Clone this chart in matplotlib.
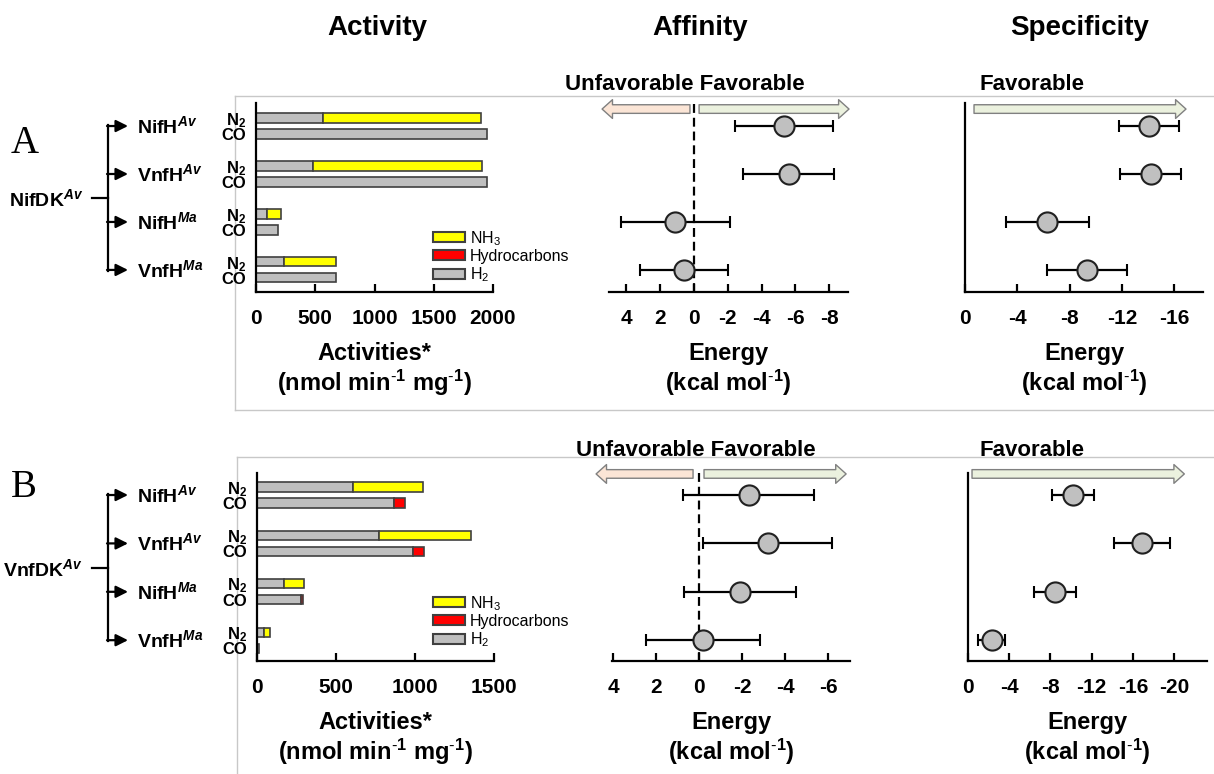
import matplotlib
matplotlib.use('Agg')
import matplotlib.pyplot as plt
from matplotlib.patches import Patch

plt.rcParams['font.family'] = ['Liberation Sans', 'DejaVu Sans']
plt.rcParams['mathtext.fontset'] = 'custom'
plt.rcParams['mathtext.rm'] = 'Liberation Sans'
plt.rcParams['mathtext.bf'] = 'Liberation Sans:bold'
plt.rcParams['mathtext.it'] = 'Liberation Sans:italic:bold'
plt.rcParams['mathtext.default'] = 'regular'
plt.rcParams['axes.unicode_minus'] = False

# Reductase partners (same for both panels)
partners = ['NifH$^{\\mathit{Av}}$', 'VnfH$^{\\mathit{Av}}$', 'NifH$^{\\mathit{Ma}}$', 'VnfH$^{\\mathit{Ma}}$']
substrates = ['N$_2$', 'CO']

# Panel A: NifDK^Av activities (nmol min-1 mg-1)
a_n2_h2 = [565, 480, 93, 236]
a_n2_nh3 = [1332, 1426, 118, 439]
a_co_h2 = [1948, 1948, 186, 675]
a_co_hc = [0, 0, 0, 0]
# Panel A energies (kcal/mol)
a_affinity = [-5.3, -5.6, 1.1, 0.6]
a_affinity_err = [2.9, 2.7, 3.2, 2.6]
a_specificity = [-14.1, -14.2, -6.3, -9.3]
a_specificity_err = [2.3, 2.35, 3.15, 3.05]

# Panel B: VnfDK^Av activities
b_n2_h2 = [610, 769, 172, 45]
b_n2_nh3 = [438, 584, 127, 38]
b_co_h2 = [870, 985, 278, 12]
b_co_hc = [64, 70, 12, 0]
# Panel B energies
b_affinity = [-2.3, -3.2, -1.9, -0.2]
b_affinity_err = [3.05, 3.0, 2.6, 2.65]
b_specificity = [-10.2, -16.9, -8.45, -2.3]
b_specificity_err = [2.05, 2.7, 2.05, 1.3]

a_act_ticks = [0, 500, 1000, 1500, 2000]
b_act_ticks = [0, 500, 1000, 1500]
a_aff_ticks = [4, 2, 0, -2, -4, -6, -8]
b_aff_ticks = [4, 2, 0, -2, -4, -6]
a_spec_ticks = [0, -4, -8, -12, -16]
b_spec_ticks = [0, -4, -8, -12, -16, -20]

W, H = 1214, 774
GRAY = '#BFBFBF'
EDGE = '#404040'
fig = plt.figure(figsize=(W / 100, H / 100), dpi=100)

# full-figure overlay in pixel coordinates (y down) for tree, boxes and headers
deco = fig.add_axes([0, 0, 1, 1], zorder=-1)
deco.set_xlim(0, W)
deco.set_ylim(H, 0)
deco.axis('off')

UNITS_ACT = 'Activities*\n(nmol min$^{\\text{-}1}$ mg$^{\\text{-}1}$)'
UNITS_E = 'Energy\n(kcal mol$^{\\text{-}1}$)'


def px_axes(x0, y0, x1, y1):
    ax = fig.add_axes([x0 / W, 1 - y1 / H, (x1 - x0) / W, (y1 - y0) / H])
    ax.patch.set_alpha(0)
    return ax


def to_px(ax, x, y):
    disp = ax.transData.transform((x, y))
    return deco.transData.inverted().transform(disp)


def style_x(ax, ticks, lim):
    ax.set_xlim(*lim)
    ax.set_xticks(ticks)
    ax.set_xticklabels([f'{t:g}' for t in ticks], fontsize=15, fontweight='bold')
    ax.tick_params(axis='x', direction='in', length=6, width=1.6, pad=12)
    ax.spines['bottom'].set_linewidth(1.6)
    for s in ['top', 'right']:
        ax.spines[s].set_visible(False)


def fav_arrow(ax, x0, x1, yfrac, color):
    ax.annotate('', xy=(x1, yfrac), xytext=(x0, yfrac),
                xycoords=ax.get_xaxis_transform(), textcoords=ax.get_xaxis_transform(),
                annotation_clip=False,
                arrowprops=dict(arrowstyle='simple,head_length=0.75,head_width=1.35,tail_width=0.62',
                                mutation_scale=10, fc=color, ec='#808080', lw=1,
                                shrinkA=0, shrinkB=0))


def energy_points(ax, vals, errs, centers):
    ax.errorbar(vals, centers, xerr=errs, fmt='o', ms=14.5, mfc='#C0C0C0', mec='#202020',
                mew=1.5, ecolor='black', elinewidth=1.6, capsize=4.5, capthick=1.6, zorder=3)


def draw_panel(letter, letter_y, complex_label, rows, act_box, act_ticks, act_max, ylim,
               aff_box, aff_lim, aff_ticks, aff, aff_err, arrow_y, arrows_aff,
               spec_box, spec_lim, spec_ticks, spec, spec_err, arrows_spec,
               header_y, header_x, leg_top):
    n2_h2, n2_nh3, co_h2, co_hc = rows
    centers = [3 - i for i in range(4)]
    y_n2 = [c + 1 / 6 for c in centers]
    y_co = [c - 1 / 6 for c in centers]

    # --- activity bars
    ax = px_axes(*act_box)
    bh = 0.19
    ax.barh(y_n2, n2_h2, height=bh, color=GRAY, edgecolor=EDGE, lw=1.2)
    ax.barh(y_n2, n2_nh3, left=n2_h2, height=bh, color='#FFFF00', edgecolor=EDGE, lw=1.2)
    ax.barh(y_co, co_h2, height=bh, color=GRAY, edgecolor=EDGE, lw=1.2)
    hc_y = [y for y, v in zip(y_co, co_hc) if v > 0]
    hc_l = [l for l, v in zip(co_h2, co_hc) if v > 0]
    ax.barh(hc_y, [v for v in co_hc if v > 0], left=hc_l, height=bh, color='#FF0000',
            edgecolor=EDGE, lw=1.2)
    ax.set_ylim(*ylim)
    style_x(ax, act_ticks, (0, act_max))
    ax.spines['left'].set_linewidth(1.6)
    ax.set_yticks(y_n2 + y_co)
    ax.set_yticklabels([substrates[0]] * 4 + [substrates[1]] * 4, fontsize=12, fontweight='bold')
    ax.tick_params(axis='y', length=0, pad=7)
    ax.set_xlabel(UNITS_ACT, fontsize=17, fontweight='bold', labelpad=10, linespacing=1.15)
    handles = [Patch(fc='#FFFF00', ec=EDGE, lw=1.5), Patch(fc='#FF0000', ec=EDGE, lw=1.5),
               Patch(fc=GRAY, ec=EDGE, lw=1.5)]
    ax.legend(handles, ['NH$_3$', 'Hydrocarbons', 'H$_2$'], loc='upper left',
              bbox_to_anchor=(433 / W, 1 - leg_top / H), bbox_transform=fig.transFigure,
              frameon=False, fontsize=11.5, handlelength=2.0, handleheight=0.6,
              labelspacing=0.08, handletextpad=0.3, borderpad=0, borderaxespad=0)

    # --- tree on the left
    ys = [to_px(ax, 0, c)[1] for c in centers]
    mid = (ys[0] + ys[-1]) / 2
    deco.plot([92, 108], [mid, mid], color='black', lw=1.6)
    deco.plot([108, 108], [ys[0] - 1, ys[-1] + 1], color='black', lw=1.6)
    for yy, lab in zip(ys, partners):
        deco.annotate('', xy=(128, yy), xytext=(107, yy),
                      arrowprops=dict(arrowstyle='-|>', lw=1.6, color='black',
                                      mutation_scale=18, shrinkA=0, shrinkB=0))
        deco.text(137, yy + 7, lab, fontsize=14, fontweight='bold', va='baseline')
    deco.text(83, mid + 8, complex_label, fontsize=14, fontweight='bold', ha='right', va='baseline')
    deco.text(11, letter_y, letter, fontsize=28, family='Liberation Serif', va='baseline')

    # --- affinity
    ax2 = px_axes(*aff_box)
    ax2.set_ylim(*ylim)
    style_x(ax2, aff_ticks, aff_lim)
    ax2.spines['left'].set_visible(False)
    ax2.set_yticks([])
    ax2.axvline(0, color='black', lw=1.6, ls=(0, (4, 2.2)), zorder=1)
    energy_points(ax2, aff, aff_err, centers)
    ax2.set_xlabel(UNITS_E, fontsize=17, fontweight='bold', labelpad=10, linespacing=1.15)
    fav_arrow(ax2, arrows_aff[0], arrows_aff[1], arrow_y, '#FBE5D6')
    fav_arrow(ax2, arrows_aff[2], arrows_aff[3], arrow_y, '#EBF1DE')

    # --- specificity
    ax3 = px_axes(*spec_box)
    ax3.set_ylim(*ylim)
    style_x(ax3, spec_ticks, spec_lim)
    ax3.spines['left'].set_linewidth(1.6)
    ax3.set_yticks([])
    energy_points(ax3, spec, spec_err, centers)
    ax3.set_xlabel(UNITS_E, fontsize=17, fontweight='bold', labelpad=10, linespacing=1.15)
    fav_arrow(ax3, arrows_spec[0], arrows_spec[1], arrow_y, '#EBF1DE')

    # header words above affinity / specificity
    deco.text(header_x, header_y, 'Unfavorable Favorable', fontsize=16,
              fontweight='bold', ha='center', va='baseline')
    deco.text(1032, header_y, 'Favorable', fontsize=16, fontweight='bold', ha='center',
              va='baseline')


draw_panel('A', 153, 'NifDK$^{\\mathit{Av}}$', (a_n2_h2, a_n2_nh3, a_co_h2, a_co_hc),
           (256, 103, 493, 292), a_act_ticks, 2000, (-0.46, 3.48),
           (609, 103, 848, 292), (5.03, -9.11), a_aff_ticks, a_affinity, a_affinity_err,
           0.968, (0.24, 5.44, -0.3, -9.17),
           (965, 103, 1203, 292), (0, -18.2), a_spec_ticks, a_specificity, a_specificity_err,
           (-0.69, -16.9), 90, 685, 229)

draw_panel('B', 497, 'VnfDK$^{\\mathit{Av}}$', (b_n2_h2, b_n2_nh3, b_co_h2, b_co_hc),
           (257, 473, 494, 661), b_act_ticks, 1500, (-0.43, 3.455),
           (612, 473, 850, 661), (4.05, -7.02), b_aff_ticks, b_affinity, b_affinity_err,
           0.995, (0.28, 4.79, -0.23, -6.84),
           (968, 473, 1207, 661), (0, -23.2), b_spec_ticks, b_specificity, b_specificity_err,
           (-0.39, -21.0), 456, 696, 594)

# column titles
for x, t in [(377, 'Activity'), (700, 'Affinity'), (1080, 'Specificity')]:
    deco.text(x, 35, t, fontsize=20, fontweight='bold', ha='center', va='baseline')

# light frame lines around panels
box = dict(color='#C8C8C8', lw=1)
deco.plot([235, W], [96, 96], **box)
deco.plot([235, 235], [96, 410], **box)
deco.plot([235, W], [410, 410], **box)
deco.plot([237, W], [457, 457], **box)
deco.plot([237, 237], [457, H], **box)

fig.savefig('out.png', dpi=100)
